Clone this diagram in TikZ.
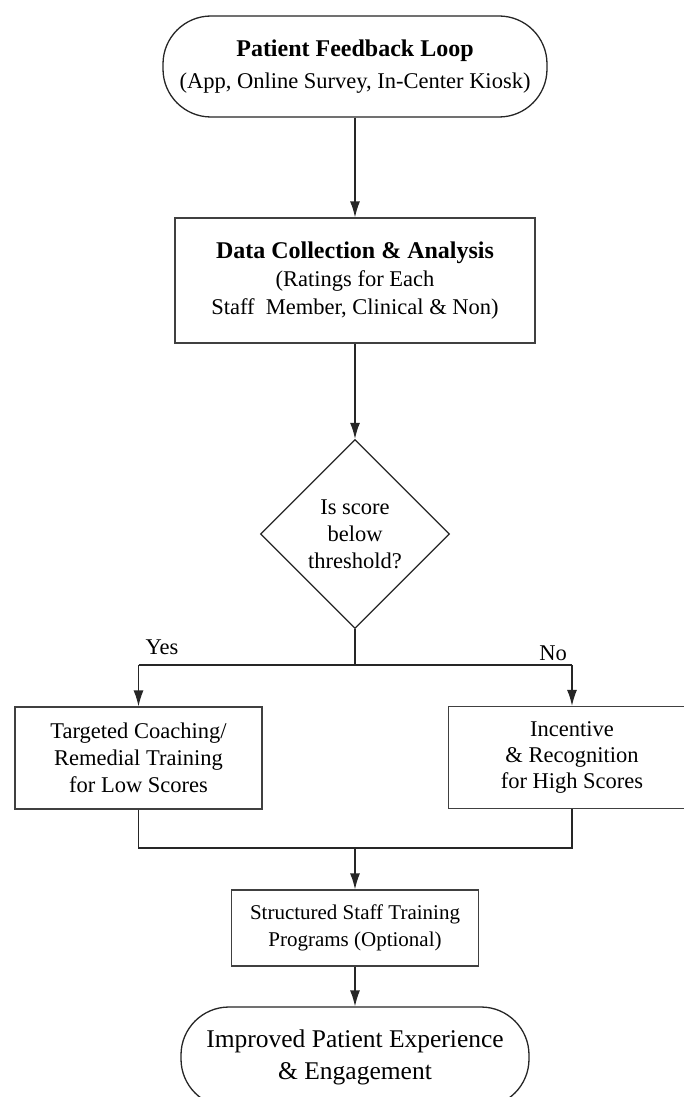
\documentclass[tikz,border=0pt]{standalone}
\usepackage{fontspec}
\setmainfont{Liberation Serif}
\usetikzlibrary{arrows.meta,shapes.geometric}
\begin{document}
\begin{tikzpicture}[x=1pt,y=1pt,
  line width=1.3pt,
  every node/.style={align=center, inner sep=0pt},
  txt/.style={font=\fontsize{22.5}{28}\selectfont},
  terminal/.style={draw=black!85, rounded corners=48pt, txt},
  procbox/.style={draw=black!75, txt},
  decision/.style={draw=black!85, diamond, aspect=1, txt},
  conn/.style={draw=black!85},
  arr/.style={conn, -{Latex[length=16pt,width=10pt]}},
  lbl/.style={font=\fontsize{22.5}{27}\selectfont}
]
\clip (0,0) rectangle (684,-1097);
\fill[white] (0,0) rectangle (684,-1097);

\node[terminal, minimum width=384pt, minimum height=101pt] (start) at (355,-66.5)
  {{\fontsize{24}{34}\selectfont\bfseries Patient Feedback Loop}\\[4pt](App, Online Survey, In-Center Kiosk)};

\node[procbox, minimum width=360pt, minimum height=125pt] (data) at (355,-280.5)
  {{\fontsize{24}{29}\selectfont\bfseries Data Collection \& Analysis}\\(Ratings for Each\\Staff\ \ Member, Clinical \& Non)};

\node[decision, minimum width=184pt, minimum height=184pt] (dec) at (355,-534)
  {\begin{minipage}{120pt}\centering\fontsize{22.5}{27}\selectfont Is score\\below\\threshold?\end{minipage}};

\node[procbox, minimum width=247pt, minimum height=102pt, font=\fontsize{22.5}{27}\selectfont] (low) at (138.5,-758)
  {Targeted Coaching/\\Remedial Training\\for Low Scores};

\node[procbox, minimum width=247pt, minimum height=102pt, font=\fontsize{22.5}{26}\selectfont] (high) at (572,-757.5)
  {Incentive\\\& Recognition\\for High Scores};

\node[procbox, minimum width=247pt, minimum height=76pt, font=\fontsize{21}{27}\selectfont] (train) at (355,-928)
  {Structured Staff Training\\Programs (Optional)};

\node[terminal, minimum width=348pt, minimum height=100pt, font=\fontsize{25.5}{32}\selectfont] (end) at (355,-1057)
  {Improved Patient Experience\\\& Engagement};

\coordinate (split) at (355,-665);
\coordinate (splitL) at (138.5,-665);
\coordinate (splitR) at (572,-665);
\coordinate (mergeL) at (138.5,-848);
\coordinate (mergeR) at (572,-848);
\coordinate (merge) at (355,-848);

\draw[arr] (start.south) -- (data.north);
\draw[arr] (data.south) -- (dec.north);
\draw[conn] (dec.south) -- (split);
\draw[conn] (splitL) -- (splitR);
\draw[arr] (splitL) -- (low.north);
\draw[arr] (splitR) -- (high.north);
\draw[conn] (low.south) -- (mergeL) -- (mergeR) -- (high.south);
\draw[arr] (merge) -- (train.north);
\draw[arr] (train.south) -- (end.north);

\node[lbl] (yes) at (162,-647) {Yes};
\node[lbl] (no) at (553,-653) {No};
\end{tikzpicture}
\end{document}
